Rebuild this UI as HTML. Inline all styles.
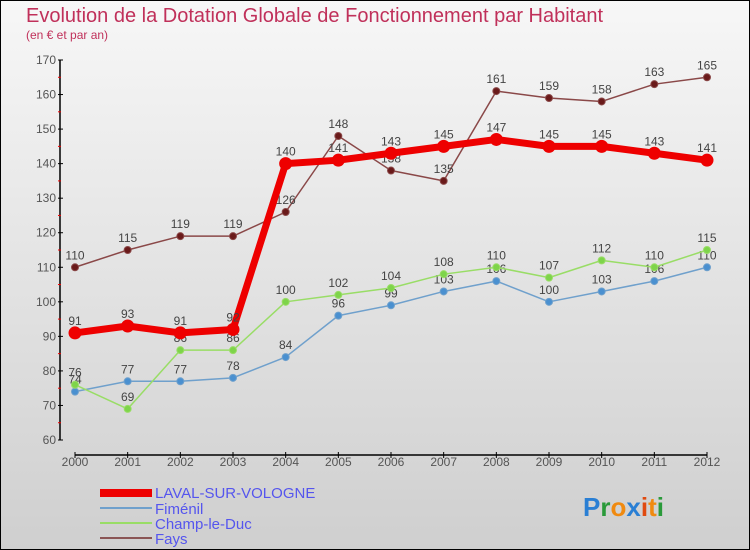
<!DOCTYPE html>
<html><head><meta charset="utf-8"><style>
body{margin:0}
#c{width:750px;height:550px;position:relative;font-family:"Liberation Sans",sans-serif;overflow:hidden}
</style></head><body>
<div id="c">
<svg id="s" width="750" height="550" xmlns="http://www.w3.org/2000/svg">
<defs><linearGradient id="bg" x1="0" y1="0" x2="0" y2="1"><stop offset="0" stop-color="#f7f7f7"/><stop offset="1" stop-color="#cfcfcf"/></linearGradient></defs>
<rect x="0.5" y="0.5" width="749" height="549" fill="url(#bg)" stroke="#000"/>
<text x="26" y="22" font-size="20" fill="#c0305a">Evolution de la Dotation Globale de Fonctionnement par Habitant</text>
<text x="26" y="39" font-size="12" fill="#c0305a">(en € et par an)</text>
<g id="axes"></g><g id="series"></g>
<g>
<rect x="100" y="489" width="52" height="8" fill="#e00"/>
<text x="155" y="498" font-size="15" fill="#5555ee">LAVAL-SUR-VOLOGNE</text>
<line x1="100" y1="508" x2="152" y2="508" stroke="#6fa0cc" stroke-width="2"/>
<text x="155" y="514" font-size="15" fill="#5555ee">Fiménil</text>
<line x1="100" y1="523" x2="152" y2="523" stroke="#99dd66" stroke-width="2"/>
<text x="155" y="529" font-size="15" fill="#5555ee">Champ-le-Duc</text>
<line x1="100" y1="538" x2="152" y2="538" stroke="#8a5555" stroke-width="2"/>
<text x="155" y="544" font-size="15" fill="#5555ee">Fays</text>
</g>
<text x="583" y="516" font-size="26" font-weight="bold"><tspan fill="#2a7fd4">P</tspan><tspan fill="#2a9a3a">r</tspan><tspan fill="#f08a10">o</tspan><tspan fill="#2a7fd4">x</tspan><tspan fill="#e04a10">i</tspan><tspan fill="#f08a10">t</tspan><tspan fill="#2a9a3a">i</tspan></text>
</svg></div>
<script>
const years=[2000,2001,2002,2003,2004,2005,2006,2007,2008,2009,2010,2011,2012];
const yTicks=[60,70,80,90,100,110,120,130,140,150,160,170];
const laval=[91,93,91,92,140,141,143,145,147,145,145,143,141];
const fimenil=[74,77,77,78,84,96,99,103,106,100,103,106,110];
const champ=[76,69,86,86,100,102,104,108,110,107,112,110,115];
const fays=[110,115,119,119,126,148,138,135,161,159,158,163,165];
const NS="http://www.w3.org/2000/svg";
const xs=i=>75+i*(632/12);
const ys=v=>440-(v-60)*(380/110);
function mk(t,a,p){const e=document.createElementNS(NS,t);for(const k in a)e.setAttribute(k,a[k]);p.appendChild(e);return e;}
const ax=document.getElementById('axes');
const yl=mk('line',{x1:60,y1:60,x2:60,y2:440,stroke:'#000','stroke-width':1.5},ax);


yTicks.forEach(v=>{
 mk('line',{x1:58,y1:ys(v),x2:63,y2:ys(v),stroke:'#000'},ax);
 if(v<170)mk('line',{x1:58,y1:ys(v+5),x2:61,y2:ys(v+5),stroke:'#e00'},ax);
 const t=mk('text',{x:56,y:ys(v)+4,'font-size':12,fill:'#555','text-anchor':'end'},ax);t.textContent=v;
 
 
});
const xl=mk('line',{x1:75,y1:455,x2:707,y2:455,stroke:'#000','stroke-width':1.5},ax);


years.forEach((y,i)=>{
 mk('line',{x1:xs(i),y1:452,x2:xs(i),y2:458,stroke:'#000'},ax);
 const t=mk('text',{x:xs(i),y:466,'font-size':12,fill:'#555','text-anchor':'middle'},ax);t.textContent=y;
 
 
});
const sg=document.getElementById('series');
function draw(name,d,col,w,r,dot){
 const g=mk('g',{},sg);
 
 
 const l=mk('polyline',{points:d.map((v,i)=>xs(i)+','+ys(v)).join(' '),fill:'none',stroke:col,'stroke-width':w,'stroke-linejoin':'round'},g);
 
 
 d.forEach((v,i)=>{
  const c=mk('circle',{cx:xs(i),cy:ys(v),r:r,fill:dot,stroke:col,'stroke-width':1},g);
  
  
  const t=mk('text',{x:xs(i),y:ys(v)-8,'font-size':12,fill:'#444','text-anchor':'middle'},g);t.textContent=v;
  
  
 });
}
draw('fimenil',fimenil,'#6fa0cc',1.5,3.5,'#4a90d0');
draw('champ-le-duc',champ,'#99dd66',1.5,3.5,'#7ed44a');
draw('fays',fays,'#8a4848',1.5,3.5,'#6a1a1a');
draw('laval-sur-vologne',laval,'#e00',7,6,'#e00');
</script>
</body></html>
